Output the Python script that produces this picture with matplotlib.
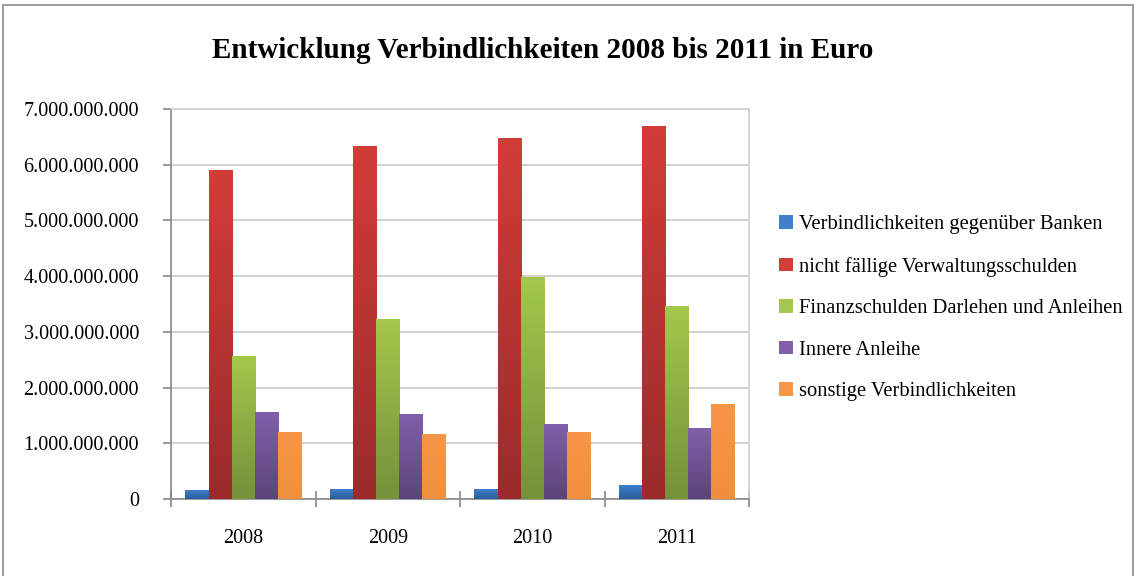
import matplotlib
matplotlib.use("Agg")
import matplotlib.pyplot as plt
import numpy as np
from matplotlib.patches import Rectangle
from matplotlib.colors import LinearSegmentedColormap

plt.rcParams['font.family'] = ['Liberation Serif', 'DejaVu Serif']

# Daten
jahre = ['2008', '2009', '2010', '2011']
serien = ['Verbindlichkeiten gegenüber Banken',
          'nicht fällige Verwaltungsschulden',
          'Finanzschulden Darlehen und Anleihen',
          'Innere Anleihe',
          'sonstige Verbindlichkeiten']
banken = [150e6, 167e6, 162e6, 234e6]
verwaltung = [5.89e9, 6.32e9, 6.47e9, 6.68e9]
finanz = [2.55e9, 3.23e9, 3.97e9, 3.45e9]
innere = [1.56e9, 1.51e9, 1.33e9, 1.26e9]
sonstige = [1.20e9, 1.15e9, 1.19e9, 1.69e9]
werte = [banken, verwaltung, finanz, innere, sonstige]

# Farben oben (hell) / unten (dunkel)
farben_oben = ['#3F7FCB', '#D23D38', '#A3C84B', '#8060AA', '#F79646']
farben_unten = ['#2C5D9C', '#9A2B2B', '#75913A', '#5C4479', '#F0903F']

fig = plt.figure(figsize=(11.39, 5.76), dpi=100)
ax = fig.add_axes([171/1139, 77/576, 578/1139, 390/576])

x = np.arange(len(jahre))
breite = 0.16
for i, (name, v) in enumerate(zip(serien, werte)):
    pos = x - 0.4 + breite * (i + 0.5)
    bars = ax.bar(pos, v, breite, color=farben_oben[i], label=name, zorder=2)
    cmap = LinearSegmentedColormap.from_list('g%d' % i, [farben_unten[i], farben_oben[i]])
    grad = np.linspace(0, 1, 256).reshape(-1, 1)
    for b in bars:
        x0, y0 = b.get_x(), b.get_y()
        ax.imshow(grad, cmap=cmap, origin='lower', aspect='auto',
                  extent=(x0, x0 + b.get_width(), y0, y0 + b.get_height()),
                  zorder=3, interpolation='bicubic')

ax.set_xlim(-0.5, 3.5)
ax.set_ylim(0, 7e9)
ax.set_yticks(np.arange(0, 7.5e9, 1e9))
ax.set_yticklabels([f"{int(t):,}".replace(',', '.') for t in np.arange(0, 7.5e9, 1e9)])
ax.set_xticks(x)
ax.set_xticklabels(jahre)
ax.tick_params(axis='x', length=0, labelsize=14.5, pad=21.5)
ax.tick_params(axis='y', length=6, width=1.2, color='#868686', labelsize=14.5, pad=17)
ax.set_xticks(np.arange(-0.5, 4, 1), minor=True)
ax.tick_params(axis='x', which='minor', length=12, width=1.2, color='#868686', direction='inout')
ax.grid(axis='y', color='#C8C8C8', lw=1.2, zorder=0)
ax.set_axisbelow(True)

for s in ['left', 'bottom']:
    ax.spines[s].set_color('#868686')
    ax.spines[s].set_linewidth(1.2)
for s in ['top', 'right']:
    ax.spines[s].set_color('#D0D0D0')
    ax.spines[s].set_linewidth(1.2)

fig.text(543/1139, 1 - 51/576, 'Entwicklung Verbindlichkeiten 2008 bis 2011 in Euro',
         ha='center', va='center', fontsize=21, fontweight='bold')

handles, labels = ax.get_legend_handles_labels()
fig.legend(handles, labels, loc='upper left', bbox_to_anchor=(771/1139, 1 - 207/576),
           frameon=False, fontsize=14.8, handlelength=0.65, handleheight=0.65,
           handletextpad=0.3, labelspacing=1.09, borderaxespad=0)

fig.add_artist(Rectangle((3/1139, -0.02), 1130/1139, 1 - 5/576 + 0.02, transform=fig.transFigure,
                         fill=False, edgecolor='#8C8C8C', lw=1.2))

fig.savefig('out.png', dpi=100)
